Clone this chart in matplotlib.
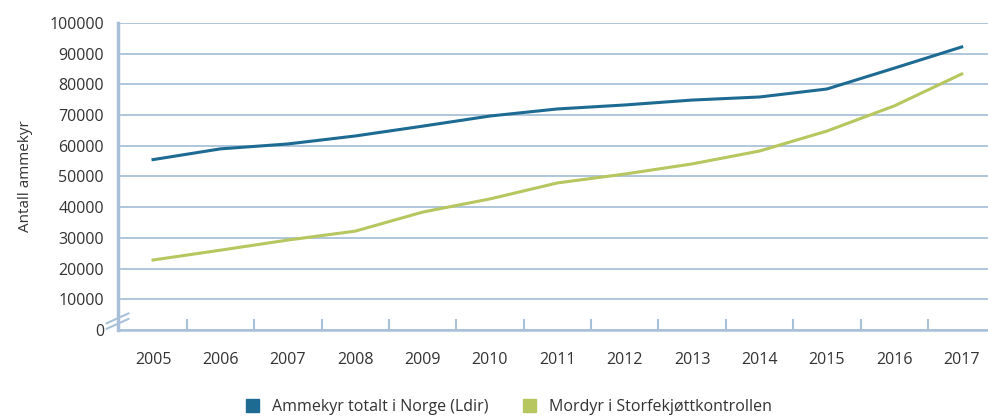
import matplotlib.pyplot as plt
import numpy as np

years = ['2005', '2006', '2007', '2008', '2009', '2010', '2011',
         '2012', '2013', '2014', '2015', '2016', '2017']
ammekyr_totalt = [55500, 59000, 60600, 63200, 66400, 69700, 72000,
                  73300, 74900, 75900, 78500, 85300, 92200]
mordyr_storfe = [22800, 26000, 29300, 32200, 38400, 42700, 47900,
                 50800, 54100, 58300, 64800, 73000, 83400]

BLUE = '#1d6b93'
GREEN = '#b7c65f'
GRID = '#a9c1d8'
TEXT = '#333333'

plt.rcParams['font.family'] = ['Open Sans', 'DejaVu Sans']

fig = plt.figure(figsize=(9.88, 4.19), dpi=100)
ax = fig.add_axes([118 / 988, 89 / 419, 870 / 988, 307 / 419])

x = np.arange(len(years))
ax.plot(x, ammekyr_totalt, color=BLUE, lw=2.2)
ax.plot(x, mordyr_storfe, color=GREEN, lw=2.2)

ax.set_ylim(0, 100000)
ax.set_xlim(-0.52, 12.39)
ax.set_yticks(np.arange(0, 100001, 10000))
ax.yaxis.grid(True, color=GRID, lw=1.3)
ax.set_axisbelow(True)

ax.set_xticks(x)
ax.set_xticklabels(years)
ax.set_xticks(x[:-1] + 0.5, minor=True)
ax.tick_params(axis='x', which='major', length=0, pad=16, labelsize=11.5, colors=TEXT)
ax.tick_params(axis='x', which='minor', direction='in', length=8, width=1.5, color=GRID)
ax.tick_params(axis='y', length=0, pad=10, labelsize=11.5, colors=TEXT)

for side in ['top', 'right']:
    ax.spines[side].set_visible(False)
ax.spines['left'].set_color(GRID)
ax.spines['left'].set_linewidth(2.5)
ax.spines['bottom'].set_color(GRID)
ax.spines['bottom'].set_linewidth(1.8)

# axis break mark
for dy in (0, 0.018):
    ax.plot([-0.013, 0.012], [0.004 + dy, 0.036 + dy], transform=ax.transAxes,
            color=GRID, lw=1.5, clip_on=False)

ax.set_ylabel('Antall ammekyr', fontsize=11, color=TEXT, labelpad=12)

fig.legend(loc='center', bbox_to_anchor=(0.515, 12 / 419), ncol=2, frameon=False,
           fontsize=11.5, handlelength=0.8, handleheight=0.8, columnspacing=2.2,
           labelcolor=TEXT,
           handles=[plt.Rectangle((0, 0), 1, 1, color=BLUE),
                    plt.Rectangle((0, 0), 1, 1, color=GREEN)],
           labels=['Ammekyr totalt i Norge (Ldir)', 'Mordyr i Storfekjøttkontrollen'])

fig.savefig('out.png', dpi=100)
